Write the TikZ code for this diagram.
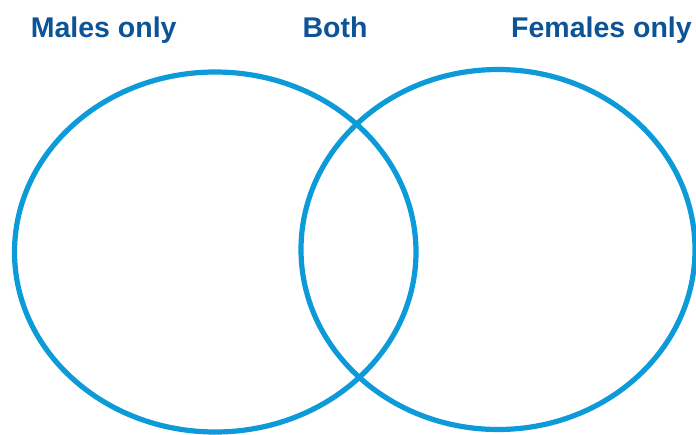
\documentclass[tikz,border=0pt]{standalone}
\usepackage{fontspec}
\setmainfont{Liberation Sans}
\definecolor{ringblue}{RGB}{12,154,216}
\definecolor{labelblue}{RGB}{12,84,150}
\tikzset{
  ring/.style={draw=ringblue, line width=5.2pt},
  setlabel/.style={text=labelblue, font=\fontsize{28.5}{34}\selectfont\bfseries, anchor=base, inner sep=0pt}
}
\begin{document}
\begin{tikzpicture}[x=1pt,y=-1pt]
\useasboundingbox (0,0) rectangle (696,434);
\clip (0,0) rectangle (696,434);
\fill[white] (0,0) rectangle (696,434);
\draw[ring] (215.25,252) ellipse [x radius=200.75, y radius=180];
\draw[ring] (498,249.5) ellipse [x radius=197, y radius=180];
\node[setlabel] (males) at (103.7,37) {Males only};
\node[setlabel] (both) at (335,37) {Both};
\node[setlabel] (females) at (601.5,37) {Females only};
\end{tikzpicture}
\end{document}
